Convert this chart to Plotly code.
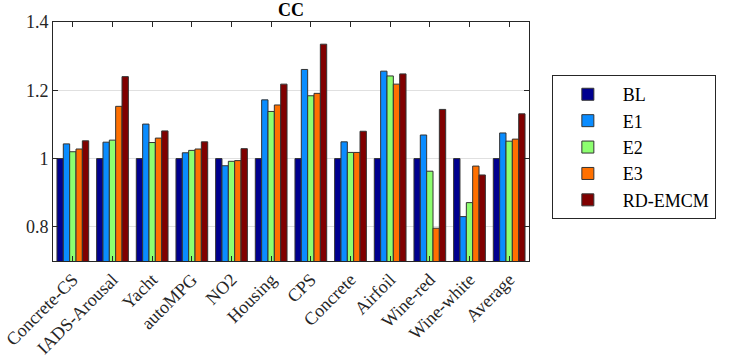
import plotly.graph_objects as go

categories = ['Concrete-CS', 'IADS-Arousal', 'Yacht', 'autoMPG', 'NO2', 'Housing',
              'CPS', 'Concrete', 'Airfoil', 'Wine-red', 'Wine-white', 'Average']

bl = [1.0] * 12
e1 = [1.043, 1.048, 1.101, 1.017, 0.979, 1.172, 1.261, 1.049, 1.256, 1.069, 0.830, 1.075]
e2 = [1.020, 1.054, 1.047, 1.024, 0.992, 1.138, 1.184, 1.018, 1.242, 0.963, 0.871, 1.051]
e3 = [1.028, 1.153, 1.060, 1.028, 0.994, 1.157, 1.191, 1.018, 1.218, 0.796, 0.978, 1.057]
rd = [1.052, 1.240, 1.081, 1.049, 1.029, 1.218, 1.335, 1.080, 1.248, 1.144, 0.952, 1.131]

series = [
    ('BL', bl, '#00008f'),
    ('E1', e1, '#0a8cff'),
    ('E2', e2, '#8dff70'),
    ('E3', e3, '#ff7000'),
    ('RD-EMCM', rd, '#800000'),
]

serif = "Liberation Serif"

fig = go.Figure()
for name, vals, color in series:
    fig.add_trace(go.Bar(
        x=categories,
        y=vals,
        name=name,
        marker=dict(color=color, line=dict(color='#333333', width=1)),
    ))

fig.update_layout(
    title=dict(text='<b>CC</b>', x=0.5, xref='paper', y=0.99, yanchor='top',
               font=dict(family=serif, size=18, color='black')),
    barmode='group',
    bargap=0.2,
    bargroupgap=0,
    width=731, height=360,
    margin=dict(l=53, r=202, t=22, b=99),
    plot_bgcolor='white',
    paper_bgcolor='white',
    font=dict(family=serif, size=17, color='#262626'),
    legend=dict(
        x=1.048, y=0.778, xanchor='left', yanchor='top',
        bordercolor='#262626', borderwidth=1,
        font=dict(family=serif, size=18, color='black'),
        itemwidth=60,
        tracegroupgap=0,
    ),
)

fig.update_xaxes(
    tickangle=-45, automargin=False,
    showline=True, linecolor='#262626', linewidth=1, mirror='ticks',
    ticks='inside', ticklen=5, tickcolor='#262626',
    tickfont=dict(family=serif, size=18, color='#262626'),
)
fig.update_yaxes(
    range=[0.7, 1.4], automargin=False,
    tickvals=[0.8, 1.0, 1.2, 1.4],
    ticktext=['0.8', '1', '1.2', '1.4'],
    showgrid=True, gridcolor='#e0e0e0',
    showline=True, linecolor='#262626', linewidth=1, mirror='ticks',
    ticks='inside', ticklen=5, tickcolor='#262626',
    tickfont=dict(family=serif, size=18, color='#262626'),
    zeroline=False,
)

# drop the default page margin so the figure sits at the window's corner
fig.write_html("out.html", config={'displayModeBar': False},
               post_script="document.body.style.margin='0';")
